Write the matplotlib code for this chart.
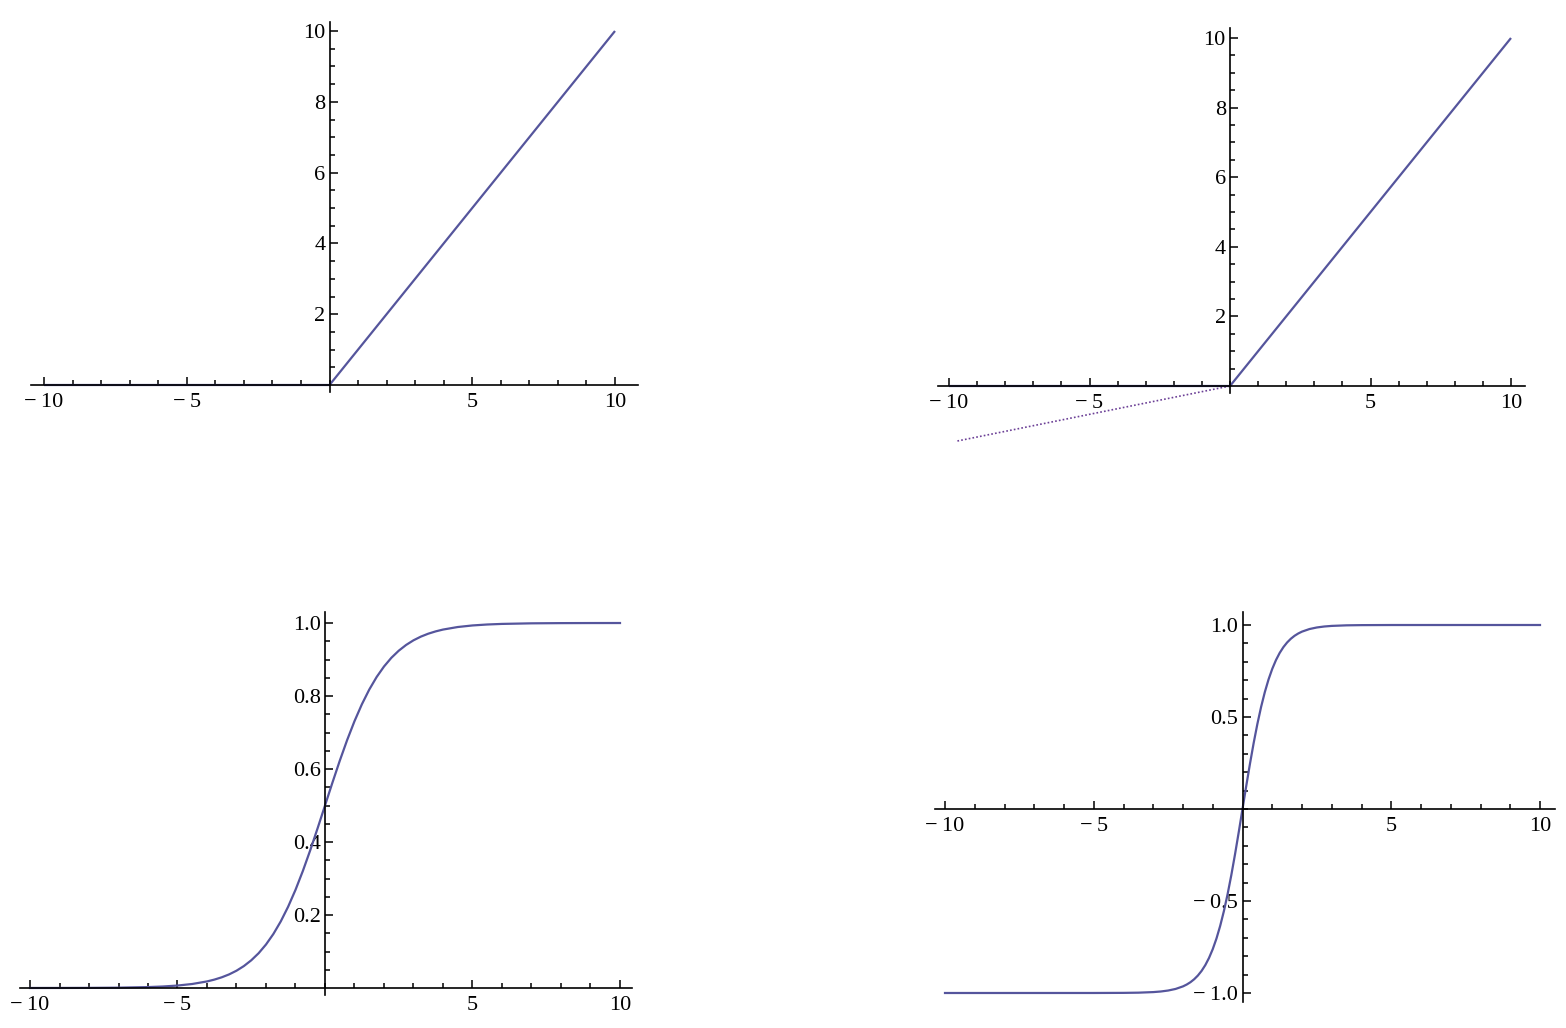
import matplotlib
matplotlib.use("Agg")
import matplotlib.pyplot as plt
import numpy as np
from matplotlib.ticker import FixedLocator

# ---- data ----
relu_x = [-10, 0, 10]
relu_y = [0, 0, 10]

leaky_x = [-9.7, 0]
leaky_y = [-1.58, 0]

sig_x = [-10, -9, -8, -7, -6, -5.5, -5, -4.5, -4, -3.75, -3.5, -3.25, -3, -2.75, -2.5, -2.25,
         -2, -1.75, -1.5, -1.25, -1, -0.75, -0.5, -0.25, 0,
         0.25, 0.5, 0.75, 1, 1.25, 1.5, 1.75, 2, 2.25, 2.5, 2.75, 3, 3.25, 3.5, 3.75, 4,
         4.5, 5, 5.5, 6, 7, 8, 9, 10]
sig_y = [0.00005, 0.00012, 0.00034, 0.00091, 0.0025, 0.0041, 0.0067, 0.0110, 0.0180, 0.0230,
         0.0293, 0.0373, 0.0474, 0.0601, 0.0759, 0.0953, 0.1192, 0.1480, 0.1824, 0.2227,
         0.2689, 0.3208, 0.3775, 0.4378, 0.5,
         0.5622, 0.6225, 0.6792, 0.7311, 0.7773, 0.8176, 0.8520, 0.8808, 0.9047, 0.9241,
         0.9399, 0.9526, 0.9627, 0.9707, 0.9770, 0.9820, 0.9890, 0.9933, 0.9959, 0.9975,
         0.9991, 0.99966, 0.99988, 0.99995]

tanh_x = [-10, -5, -4, -3.5, -3, -2.75, -2.5, -2.25, -2, -1.875, -1.75, -1.625, -1.5, -1.375,
          -1.25, -1.125, -1, -0.875, -0.75, -0.625, -0.5, -0.375, -0.25, -0.125, 0,
          0.125, 0.25, 0.375, 0.5, 0.625, 0.75, 0.875, 1, 1.125, 1.25, 1.375, 1.5, 1.625,
          1.75, 1.875, 2, 2.25, 2.5, 2.75, 3, 3.5, 4, 5, 10]
tanh_y = [-1.0, -0.9999, -0.9993, -0.9982, -0.9951, -0.9919, -0.9866, -0.9780, -0.9640,
          -0.9540, -0.9414, -0.9253, -0.9051, -0.8798, -0.8483, -0.8093, -0.7616, -0.7039,
          -0.6351, -0.5546, -0.4621, -0.3584, -0.2449, -0.1244, 0.0,
          0.1244, 0.2449, 0.3584, 0.4621, 0.5546, 0.6351, 0.7039, 0.7616, 0.8093, 0.8483,
          0.8798, 0.9051, 0.9253, 0.9414, 0.9540, 0.9640, 0.9780, 0.9866, 0.9919, 0.9951,
          0.9982, 0.9993, 0.9999, 1.0]

x_major = [-10, -5, 5, 10]
relu_y_major = [2, 4, 6, 8, 10]
sig_y_major = [0.2, 0.4, 0.6, 0.8, 1.0]
tanh_y_major = [-1.0, -0.5, 0.5, 1.0]

# ---- style ----
W, H = 1566, 1028
LINE = "#55559c"
DOT = "#6b3f96"
plt.rcParams["font.family"] = ["Liberation Serif", "DejaVu Serif"]

fig = plt.figure(figsize=(W / 100, H / 100), dpi=100)

MINUS = "\u2212\u2009"


def make_axes(ox, oy, sx, sy, xlim, ylim):
    l = ox + xlim[0] * sx
    r = ox + xlim[1] * sx
    t = oy - ylim[1] * sy
    b = oy - ylim[0] * sy
    ax = fig.add_axes([l / W, 1 - b / H, (r - l) / W, (b - t) / H])
    ax.set_xlim(*xlim)
    ax.set_ylim(*ylim)
    ax.patch.set_alpha(0)
    for s in ("top", "right"):
        ax.spines[s].set_visible(False)
    ax.spines["left"].set_position(("data", 0))
    ax.spines["bottom"].set_position(("data", 0))
    for s in ("left", "bottom"):
        ax.spines[s].set_linewidth(1.2)
        ax.spines[s].set_color("black")
    ax.tick_params(which="both", direction="in", width=1.1, color="black",
                   labelsize=16)
    ax.tick_params(which="major", length=6)
    ax.tick_params(which="minor", length=3.5)
    ax.tick_params(axis="x", which="major", pad=6)
    ax.tick_params(axis="y", which="major", pad=3)
    return ax


def fmt_ticks(ax, xmaj, ymaj, ystep, ylo, yhi, ydec):
    ax.xaxis.set_major_locator(FixedLocator(xmaj))
    ax.xaxis.set_minor_locator(FixedLocator(np.arange(-10, 11, 1)))
    ax.set_xticklabels([f"{v:g}".replace("-", MINUS) for v in xmaj])
    ax.yaxis.set_major_locator(FixedLocator(ymaj))
    ax.yaxis.set_minor_locator(FixedLocator(np.arange(ylo, yhi + ystep / 2, ystep)))
    if ydec:
        ax.set_yticklabels([f"{v:.1f}".replace("-", MINUS) for v in ymaj])
    else:
        ax.set_yticklabels([f"{v:g}" for v in ymaj])


# top-left: ReLU
ax1 = make_axes(329.5, 385, 28.55, 35.4, (-10.45, 10.8), (-0.2, 10.25))
ax1.plot(relu_x, relu_y, color=LINE, lw=1.6, solid_capstyle="butt")
fmt_ticks(ax1, x_major, relu_y_major, 0.5, 0.5, 10, False)

# top-right: Leaky ReLU
ax2 = make_axes(1230, 386, 28.1, 34.8, (-10.4, 10.5), (-1.7, 10.29))
ax2.spines["left"].set_bounds(-0.2, 10.29)
ax2.plot(relu_x, relu_y, color=LINE, lw=1.6, solid_capstyle="butt")
ax2.plot(leaky_x, leaky_y, color=DOT, lw=1.2, linestyle=(0, (1, 1.3)))
fmt_ticks(ax2, x_major, relu_y_major, 0.5, 0.5, 10, False)

# bottom-left: sigmoid
ax3 = make_axes(325, 988, 29.5, 365, (-10.34, 10.4), (-0.02, 1.03))
ax3.plot(sig_x, sig_y, color=LINE, lw=1.6)
fmt_ticks(ax3, x_major, sig_y_major, 0.05, 0.05, 1.0, True)

# bottom-right: tanh
ax4 = make_axes(1242.5, 809, 29.75, 184, (-10.34, 10.5), (-1.05, 1.07))
ax4.plot(tanh_x, tanh_y, color=LINE, lw=1.6)
fmt_ticks(ax4, x_major, tanh_y_major, 0.1, -1.0, 1.0, True)

fig.savefig("out.png", dpi=100, facecolor="white")
